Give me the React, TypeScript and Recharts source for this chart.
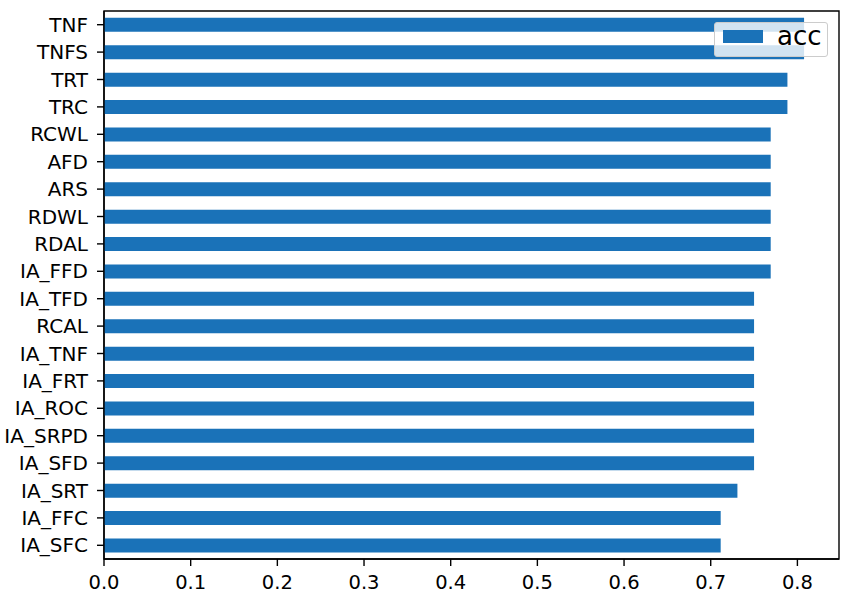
import React from "react";
import { BarChart, Bar, XAxis, YAxis, Legend, ReferenceArea } from "recharts";

const categories = [
  "TNF", "TNFS", "TRT", "TRC", "RCWL", "AFD", "ARS", "RDWL", "RDAL", "IA_FFD",
  "IA_TFD", "RCAL", "IA_TNF", "IA_FRT", "IA_ROC", "IA_SRPD", "IA_SFD", "IA_SRT", "IA_FFC", "IA_SFC",
];
const accValues = [
  0.8077, 0.8077, 0.7885, 0.7885, 0.7692, 0.7692, 0.7692, 0.7692, 0.7692, 0.7692,
  0.75, 0.75, 0.75, 0.75, 0.75, 0.75, 0.75, 0.7308, 0.7115, 0.7115,
];
const xTicks = [0, 0.1, 0.2, 0.3, 0.4, 0.5, 0.6, 0.7, 0.8];
const X_MAX = 0.848;

const data = categories.map((name, i) => ({ name, acc: accValues[i] }));

const BLUE = "#1a72b8";
const FONT = "'DejaVu Sans', sans-serif";

const LegendBox = () => (
  <div
    style={{
      width: 114,
      height: 35,
      boxSizing: "border-box",
      background: "rgba(255,255,255,0.8)",
      border: "1px solid #cccccc",
      borderRadius: 3,
      position: "relative",
      fontFamily: FONT,
    }}
  >
    <div style={{ position: "absolute", left: 8, top: 7, width: 40, height: 13, background: BLUE }} />
    <div style={{ position: "absolute", left: 62, top: -5, fontSize: 26, color: "#000", lineHeight: "36px" }}>acc</div>
  </div>
);

export default function App() {
  return (
    <div style={{ position: "absolute", left: 0, top: 0, width: 851, height: 605, background: "#fff" }}>
      <BarChart
        width={851}
        height={605}
        data={data}
        layout="vertical"
        barCategoryGap="25%"
        margin={{ top: 11, right: 12, bottom: 0, left: 0 }}
      >
        <XAxis
          type="number"
          domain={[0, X_MAX]}
          ticks={xTicks}
          tickFormatter={(v: number) => v.toFixed(1)}
          height={46}
          tickSize={7}
          tickMargin={9}
          axisLine={{ stroke: "#000", strokeWidth: 1.4 }}
          tickLine={{ stroke: "#000", strokeWidth: 1.4 }}
          tick={{ fill: "#000", fontSize: 19.5, fontFamily: FONT }}
          allowDataOverflow
        />
        <YAxis
          type="category"
          dataKey="name"
          width={104}
          tickSize={7}
          tickMargin={9}
          interval={0}
          axisLine={{ stroke: "#000", strokeWidth: 1.4 }}
          tickLine={{ stroke: "#000", strokeWidth: 1.4 }}
          tick={{ fill: "#000", fontSize: 20, fontFamily: FONT }}
        />
        <Bar dataKey="acc" fill={BLUE} isAnimationActive={false} />
        <ReferenceArea
          x1={0}
          x2={X_MAX}
          y1={categories[0]}
          y2={categories[categories.length - 1]}
          fill="#ffffff"
          fillOpacity={0}
          stroke="#000"
          strokeOpacity={1}
          strokeWidth={1.4}
          ifOverflow="visible"
        />
        <Legend
          layout="vertical"
          align="center"
          verticalAlign="middle"
          content={<LegendBox />}
          wrapperStyle={{ left: 714, top: 22, width: 114, height: 35 }}
        />
      </BarChart>
    </div>
  );
}
